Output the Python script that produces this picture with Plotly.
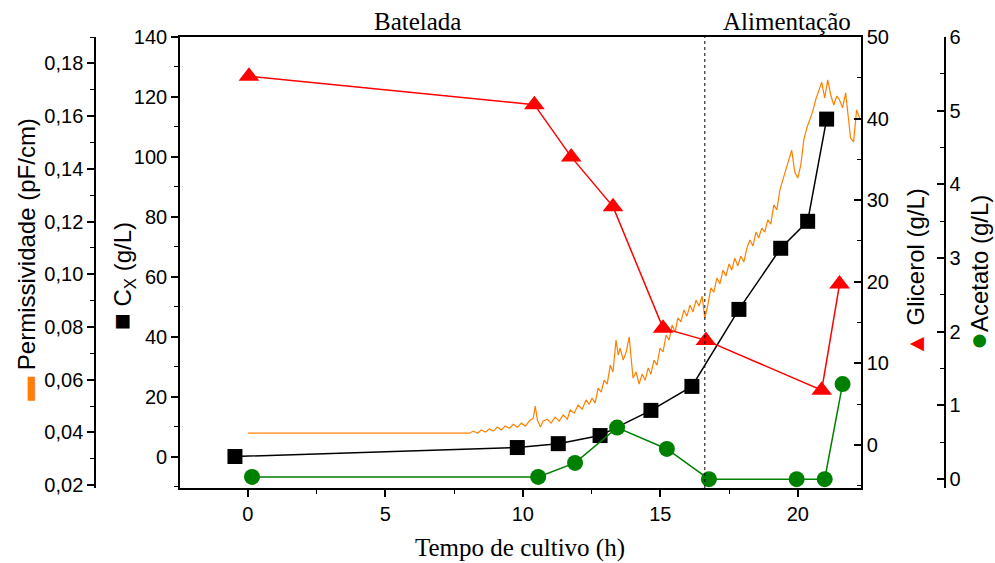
import plotly.graph_objects as go

# ---- data ----
CX_T = [-0.47, 9.8, 11.29, 12.81, 14.66, 16.15, 17.86, 19.38, 20.36, 21.05]
CX_V = [0.0, 3.0, 4.3, 7.0, 15.4, 23.4, 49.1, 69.5, 78.5, 112.6]

GLI_T = [0.04, 10.42, 11.76, 13.28, 15.1, 16.66, 20.87, 21.52]
GLI_V = [45.2, 41.7, 35.3, 29.2, 14.3, 12.8, 6.7, 19.7]

ACE_T = [0.15, 10.56, 11.9, 13.43, 15.24, 16.77, 19.96, 20.98, 21.63]
ACE_V = [0.03, 0.03, 0.22, 0.70, 0.41, 0.0, 0.0, 0.0, 1.29]

PERM_T = [0.0, 8.06, 8.20, 8.35, 8.49, 8.64, 8.78, 8.93, 9.07, 9.22,
          9.36, 9.51, 9.66, 9.80, 9.95, 10.09, 10.24, 10.38, 10.45, 10.53,
          10.64, 10.74, 10.89, 11.03, 11.18, 11.32, 11.47, 11.62, 11.72, 11.87,
          12.01, 12.16, 12.30, 12.41, 12.52, 12.63, 12.74, 12.85, 12.96, 13.07,
          13.18, 13.28, 13.39, 13.47, 13.54, 13.65, 13.76, 13.87, 13.94, 14.01,
          14.12, 14.23, 14.34, 14.45, 14.56, 14.66, 14.77, 14.88, 14.99, 15.10,
          15.21, 15.32, 15.43, 15.54, 15.64, 15.75, 15.86, 15.97, 16.08, 16.19,
          16.30, 16.41, 16.52, 16.62, 16.73, 16.84, 16.95, 17.06, 17.17, 17.28,
          17.39, 17.50, 17.60, 17.71, 17.82, 17.93, 18.04, 18.15, 18.26, 18.37,
          18.48, 18.58, 18.69, 18.80, 18.91, 19.02, 19.13, 19.24, 19.35, 19.46,
          19.56, 19.67, 19.78, 19.89, 20.00, 20.11, 20.22, 20.33, 20.44, 20.54,
          20.65, 20.76, 20.87, 20.98, 21.09, 21.20, 21.31, 21.42, 21.52, 21.63,
          21.74, 21.85, 21.92, 22.03, 22.14, 22.25]
PERM_V = [0.0397, 0.0397, 0.0405, 0.0397, 0.0409, 0.0401, 0.0413, 0.0405, 0.0420, 0.0409,
          0.0424, 0.0416, 0.0431, 0.0420, 0.0435, 0.0424, 0.0443, 0.0454, 0.0500, 0.0447,
          0.0420, 0.0443, 0.0450, 0.0435, 0.0458, 0.0443, 0.0466, 0.0450, 0.0485, 0.0473,
          0.0504, 0.0488, 0.0523, 0.0507, 0.0530, 0.0511, 0.0568, 0.0553, 0.0598, 0.0583,
          0.0655, 0.0629, 0.0750, 0.0693, 0.0720, 0.0674, 0.0705, 0.0762, 0.0682, 0.0606,
          0.0629, 0.0583, 0.0621, 0.0598, 0.0644, 0.0621, 0.0674, 0.0655, 0.0720, 0.0705,
          0.0769, 0.0750, 0.0807, 0.0781, 0.0834, 0.0819, 0.0864, 0.0841, 0.0883, 0.0857,
          0.0902, 0.0879, 0.0917, 0.0834, 0.0883, 0.0948, 0.0932, 0.0986, 0.0963, 0.1016,
          0.0993, 0.1039, 0.1016, 0.1061, 0.1031, 0.1069, 0.1046, 0.1099, 0.1130, 0.1107,
          0.1160, 0.1137, 0.1175, 0.1160, 0.1206, 0.1190, 0.1263, 0.1244, 0.1320, 0.1357,
          0.1395, 0.1433, 0.1471, 0.1388, 0.1365, 0.1414, 0.1509, 0.1555, 0.1585, 0.1616,
          0.1661, 0.1691, 0.1729, 0.1669, 0.1737, 0.1680, 0.1642, 0.1676, 0.1661, 0.1631,
          0.1688, 0.1585, 0.1517, 0.1502, 0.1623, 0.1593]

FEED_START = 16.62
PHASES = ["Batelada", "Alimentação"]
PHASE_T = [6.17, 19.6]

X_TICKS = [0, 5, 10, 15, 20]

ORANGE = "#FF8000"
RED = "#FF0000"
GREEN = "#008000"

fig = go.Figure()
fig.add_trace(go.Scatter(x=PERM_T, y=PERM_V, mode="lines", yaxis="y",
                         line=dict(color=ORANGE, width=1.2), showlegend=False))
fig.add_trace(go.Scatter(x=CX_T, y=CX_V, mode="lines+markers", yaxis="y2",
                         line=dict(color="black", width=1.5),
                         marker=dict(symbol="square", size=15, color="black"),
                         showlegend=False))
fig.add_trace(go.Scatter(x=GLI_T, y=GLI_V, mode="lines+markers", yaxis="y3",
                         line=dict(color=RED, width=1.5),
                         marker=dict(symbol="triangle-up", size=18, color=RED),
                         showlegend=False))
fig.add_trace(go.Scatter(x=ACE_T, y=ACE_V, mode="lines+markers", yaxis="y4",
                         line=dict(color=GREEN, width=1.5),
                         marker=dict(symbol="circle", size=16, color=GREEN),
                         showlegend=False))

TICKFONT = dict(family="Liberation Sans, Arial", size=20, color="black")
common_y = dict(showgrid=False, zeroline=False, showline=True, linecolor="black",
                linewidth=1.5, tickcolor="black", ticklen=7, tickwidth=1.5,
                tickfont=TICKFONT)

XL, XR = 0.1311, 0.8754
fig.update_layout(
    width=995, height=563,
    margin=dict(l=60, r=20, t=37, b=75),
    paper_bgcolor="white", plot_bgcolor="white",
    separators=",.",
    xaxis=dict(domain=[XL, XR], range=[-2.47, 22.3], anchor="y",
               tickvals=X_TICKS, ticks="outside", ticklen=7, tickwidth=1.5,
               tickcolor="black", showline=True, linecolor="black", linewidth=1.5,
               mirror=True, showgrid=False, zeroline=False, tickfont=TICKFONT,
               minor=dict(dtick=2.5, tick0=0, ticks="outside", ticklen=4,
                          tickcolor="black", tickwidth=1.2)),
    yaxis=dict(range=[0.0189, 0.19], anchor="free", position=0.0383, side="left",
               dtick=0.02, tick0=0.02, tickformat=".2f", ticks="outside",
               minor=dict(dtick=0.01, tick0=0.02, ticks="outside", ticklen=4,
                          tickcolor="black", tickwidth=1.2),
               **common_y),
    yaxis2=dict(range=[-10.5, 140], overlaying="y", anchor="x", side="left",
                dtick=20, tick0=0, ticks="outside",
                minor=dict(dtick=10, tick0=0, ticks="outside", ticklen=4,
                           tickcolor="black", tickwidth=1.2),
                **common_y),
    yaxis3=dict(range=[-5.3, 50], overlaying="y", anchor="x", side="right",
                dtick=10, tick0=0, ticks="inside",
                minor=dict(dtick=5, tick0=0, ticks="inside", ticklen=4,
                           tickcolor="black", tickwidth=1.2),
                **common_y),
    yaxis4=dict(range=[-0.12, 6.0], overlaying="y", anchor="free", position=0.967,
                side="right", dtick=1, tick0=0, ticks="inside",
                minor=dict(dtick=0.5, tick0=0, ticks="inside", ticklen=4,
                           tickcolor="black", tickwidth=1.2),
                **common_y),
)

fig.add_shape(type="line", xref="x", yref="paper", x0=FEED_START, x1=FEED_START,
              y0=0, y1=1, line=dict(color="black", width=1, dash="3px,3px"))

SERIF = dict(family="Liberation Serif, Times New Roman", size=25, color="black")
for name, t in zip(PHASES, PHASE_T):
    fig.add_annotation(x=t, xref="x", y=1.035, yref="paper", text=name,
                       showarrow=False, font=SERIF, xanchor="center", yanchor="middle")

fig.add_annotation(x=0.503, y=-0.133, xref="paper", yref="paper",
                   text="Tempo de cultivo (h)", showarrow=False, font=SERIF,
                   xanchor="center", yanchor="middle")

TITLEFONT = dict(family="Liberation Sans, Arial", size=24, color="black")
titles = [
    (-0.036, 0.506, f"<span style='color:{ORANGE}'>▬</span> Permissividade (pF/cm)"),
    (0.0689, 0.47, "<span style='font-size:28px'>■</span> C<sub>X</sub> (g/L)"),
    (0.935, 0.478, f"<span style='color:{RED}'>▲</span> Glicerol (g/L)"),
    (1.003, 0.478, f"<span style='color:{GREEN};font-size:30px'>●</span>Acetato (g/L)"),
]
for x, y, txt in titles:
    fig.add_annotation(x=x, y=y, xref="paper", yref="paper", text=txt,
                       textangle=-90, showarrow=False, font=TITLEFONT,
                       xanchor="center", yanchor="middle")

fig.write_html("out.html")
